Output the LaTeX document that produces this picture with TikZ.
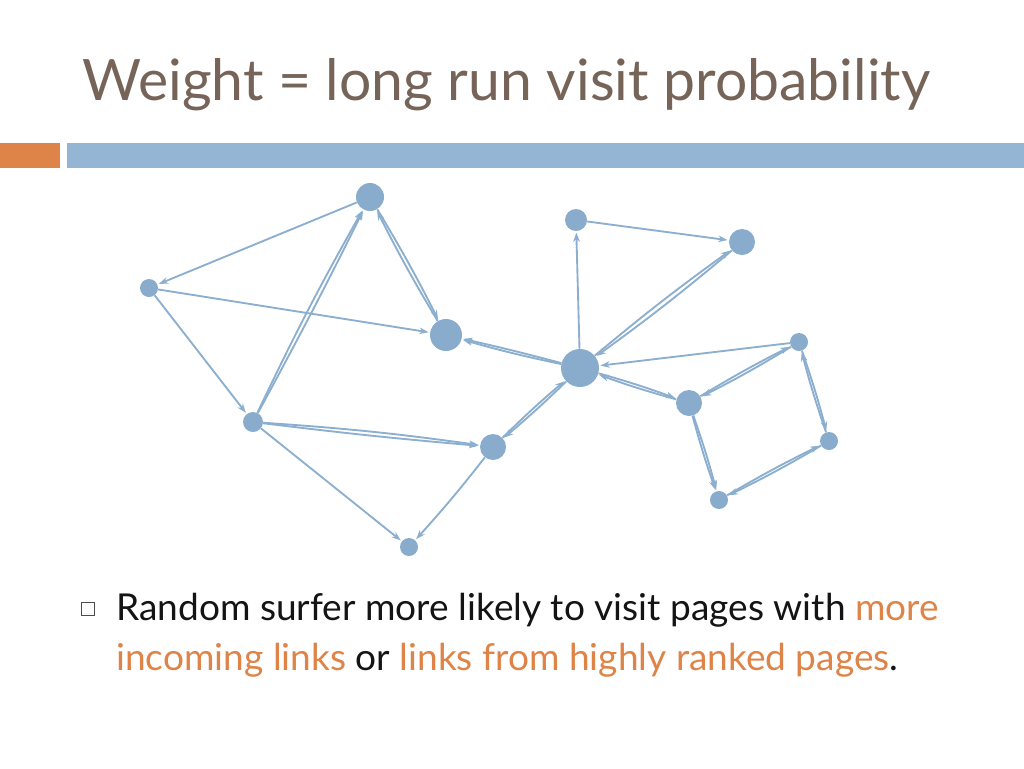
\documentclass[tikz,border=0pt]{standalone}
\usepackage{fontspec}
\setmainfont{Lato}
\usetikzlibrary{arrows.meta}
\definecolor{ttl}{RGB}{118,100,88}
\definecolor{org}{RGB}{222,132,72}
\definecolor{bar}{RGB}{148,182,212}
\definecolor{edge}{RGB}{140,175,208}
\definecolor{nd}{RGB}{138,172,204}
\definecolor{txt}{RGB}{20,20,20}
\begin{document}
\begin{tikzpicture}[x=0.75pt,y=-0.75pt,
  pg/.style={circle,fill=nd,inner sep=0pt,minimum size=#1*0.75pt},
  e/.style={draw=edge,line width=1.4pt,-{Stealth[length=7pt,width=5pt]},shorten >=1pt},
  b/.style={e,bend left=2}]
\useasboundingbox (0,0) rectangle (1024,768);
\node[anchor=base west,text=ttl,font=\fontsize{42.8}{46}\selectfont,inner sep=0pt] (title) at (82,100) {Weight = long run visit probability};
\fill[org] (0,143) rectangle (60,168);
\fill[bar] (67,143) rectangle (1024,168);
\node[pg=28] (A) at (370,197) {};
\node[pg=18] (B) at (149,288) {};
\node[pg=32] (C) at (446,335) {};
\node[pg=20] (D) at (253,422) {};
\node[pg=26] (E) at (493,447) {};
\node[pg=18] (F) at (409,547) {};
\node[pg=38] (G) at (580,368) {};
\node[pg=22] (H) at (576,220) {};
\node[pg=26] (I) at (742,242) {};
\node[pg=18] (J) at (799,342) {};
\node[pg=26] (K) at (689,403) {};
\node[pg=18] (L) at (829,441) {};
\node[pg=18] (M) at (719,500) {};
\draw[e] (A) -- (B);
\draw[e] (B) -- (C);
\draw[e] (B) -- (D);
\draw[b] (D) to (A); \draw[e,bend right=1] (D) to (A);
\draw[b] (A) to (C); \draw[b] (C) to (A);
\draw[b] (G) to (C); \draw[e,bend right=1] (G) to (C);
\draw[b] (D) to (E); \draw[e,bend right=1] (D) to (E);
\draw[e] (D) -- (F);
\draw[b] (E) to (F);
\draw[b] (E) to (G); \draw[b] (G) to (E);
\draw[e] (G) -- (H);
\draw[e] (H) -- (I);
\draw[b] (G) to (I); \draw[b] (I) to (G);
\draw[e] (J) -- (G);
\draw[b] (J) to (K); \draw[b] (K) to (J);
\draw[b] (G) to (K); \draw[b] (K) to (G);
\draw[b] (K) to (M); \draw[e,bend right=2] (K) to (M);
\draw[b] (J) to (L); \draw[b] (L) to (J);
\draw[b] (L) to (M); \draw[b] (M) to (L);
\draw[line width=0.6pt,draw=black!70] (81,602) rectangle (94,615);
\node[anchor=base west,text=txt,font=\fontsize{27.8}{30}\selectfont,inner sep=0pt] (l1) at (116,620) {Random surfer more likely to visit pages with \textcolor{org}{more}};
\node[anchor=base west,text=txt,font=\fontsize{27.8}{30}\selectfont,inner sep=0pt] (l2) at (116,670) {\textcolor{org}{incoming links} or \textcolor{org}{links from highly ranked pages}.};
\end{tikzpicture}
\end{document}
